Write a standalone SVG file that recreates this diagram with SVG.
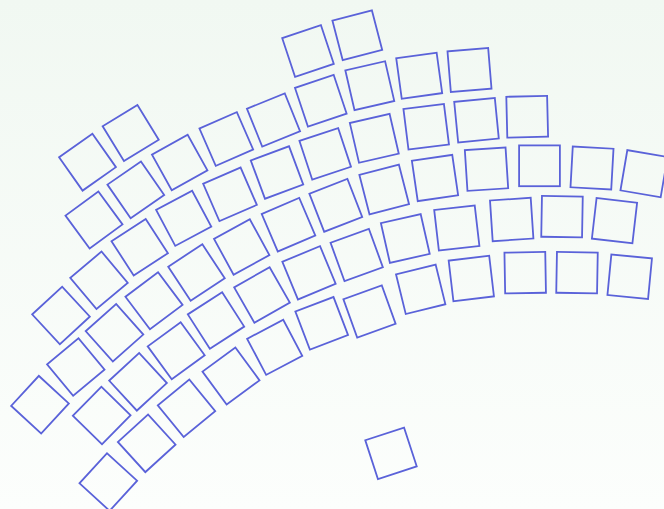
<svg xmlns="http://www.w3.org/2000/svg" xmlns:xlink="http://www.w3.org/1999/xlink" width="664" height="509" viewBox="0 0 664 509">
<defs>
<linearGradient id="bg" x1="0" y1="0" x2="0" y2="1">
<stop offset="0" stop-color="#f1f8f2"/>
<stop offset="1" stop-color="#fcfefc"/>
</linearGradient>
<rect id="sq" x="-20.4" y="-20.4" width="40.8" height="40.8"/>
</defs>
<style>
.s use{fill:none;stroke:#5a62d9;stroke-width:1.8;}
</style>
<rect x="0" y="0" width="664" height="509" fill="url(#bg)"/>
<g class="s" id="squares">
<use href="#sq" transform="translate(308,51) rotate(-18.4)"/>
<use href="#sq" transform="translate(357.3,35.3) rotate(-14.6)"/>
<use href="#sq" transform="translate(419.2,75.7) rotate(-7.8)"/>
<use href="#sq" transform="translate(469.5,70) rotate(-4.7)"/>
<use href="#sq" transform="translate(369.8,85.7) rotate(-13)"/>
<use href="#sq" transform="translate(320.8,100.8) rotate(-18.5)"/>
<use href="#sq" transform="translate(273.5,120) rotate(-22)"/>
<use href="#sq" transform="translate(226.3,139) rotate(-23.6)"/>
<use href="#sq" transform="translate(179.7,162.5) rotate(-29)"/>
<use href="#sq" transform="translate(130.7,133) rotate(-31.5)"/>
<use href="#sq" transform="translate(87.5,162.2) rotate(-35.2)"/>
<use href="#sq" transform="translate(527.2,116.7) rotate(-1.4)"/>
<use href="#sq" transform="translate(476.5,120.2) rotate(-5.6)"/>
<use href="#sq" transform="translate(426.2,126.7) rotate(-7.1)"/>
<use href="#sq" transform="translate(374.3,138.3) rotate(-13)"/>
<use href="#sq" transform="translate(325.2,153.8) rotate(-18.3)"/>
<use href="#sq" transform="translate(277,172.5) rotate(-20.4)"/>
<use href="#sq" transform="translate(230,194.3) rotate(-23.5)"/>
<use href="#sq" transform="translate(183.7,218.3) rotate(-28)"/>
<use href="#sq" transform="translate(135.8,189.8) rotate(-34.7)"/>
<use href="#sq" transform="translate(94,220) rotate(-36.3)"/>
<use href="#sq" transform="translate(644,173.7) rotate(9.7)"/>
<use href="#sq" transform="translate(592,168) rotate(3.2)"/>
<use href="#sq" transform="translate(539.5,165.8) rotate(0)"/>
<use href="#sq" transform="translate(486.5,169.2) rotate(-3.7)"/>
<use href="#sq" transform="translate(435,178) rotate(-8.3)"/>
<use href="#sq" transform="translate(384.2,189.5) rotate(-14.4)"/>
<use href="#sq" transform="translate(335.8,205.3) rotate(-21.3)"/>
<use href="#sq" transform="translate(288.5,224.7) rotate(-23.2)"/>
<use href="#sq" transform="translate(241.7,247) rotate(-28.7)"/>
<use href="#sq" transform="translate(196.5,272.5) rotate(-33.3)"/>
<use href="#sq" transform="translate(139.7,247.2) rotate(-33)"/>
<use href="#sq" transform="translate(99,280.3) rotate(-40)"/>
<use href="#sq" transform="translate(614.5,220.7) rotate(6.6)"/>
<use href="#sq" transform="translate(562,216.7) rotate(1)"/>
<use href="#sq" transform="translate(511.7,219.5) rotate(-3.8)"/>
<use href="#sq" transform="translate(456.8,228) rotate(-6.6)"/>
<use href="#sq" transform="translate(405.3,238.5) rotate(-12.8)"/>
<use href="#sq" transform="translate(356.7,255) rotate(-20)"/>
<use href="#sq" transform="translate(309,272.8) rotate(-22.5)"/>
<use href="#sq" transform="translate(262,295) rotate(-29.7)"/>
<use href="#sq" transform="translate(216,320.5) rotate(-32.7)"/>
<use href="#sq" transform="translate(154,300.8) rotate(-36.9)"/>
<use href="#sq" transform="translate(114.5,332.8) rotate(-41.7)"/>
<use href="#sq" transform="translate(61,315.5) rotate(-42.7)"/>
<use href="#sq" transform="translate(629.7,276.7) rotate(5.5)"/>
<use href="#sq" transform="translate(577,272.7) rotate(1)"/>
<use href="#sq" transform="translate(525.2,272.7) rotate(-1)"/>
<use href="#sq" transform="translate(471.3,278.5) rotate(-6.7)"/>
<use href="#sq" transform="translate(420.7,289.3) rotate(-13.8)"/>
<use href="#sq" transform="translate(369.5,311.5) rotate(-19.8)"/>
<use href="#sq" transform="translate(321.7,323.3) rotate(-20.9)"/>
<use href="#sq" transform="translate(274.7,347.3) rotate(-27.8)"/>
<use href="#sq" transform="translate(231,376) rotate(-36.3)"/>
<use href="#sq" transform="translate(176.2,350.8) rotate(-36.1)"/>
<use href="#sq" transform="translate(138,381.8) rotate(-42.7)"/>
<use href="#sq" transform="translate(75.8,367) rotate(-39.7)"/>
<use href="#sq" transform="translate(186.5,408.2) rotate(-39.4)"/>
<use href="#sq" transform="translate(146.7,443.3) rotate(-42.3)"/>
<use href="#sq" transform="translate(101.7,415.5) rotate(-45.6)"/>
<use href="#sq" transform="translate(40,404.7) rotate(-47.3)"/>
<use href="#sq" transform="translate(108.3,482) rotate(-47.6)"/>
<use href="#sq" transform="translate(391,453.3) rotate(-18.1)"/>
</g>
</svg>
